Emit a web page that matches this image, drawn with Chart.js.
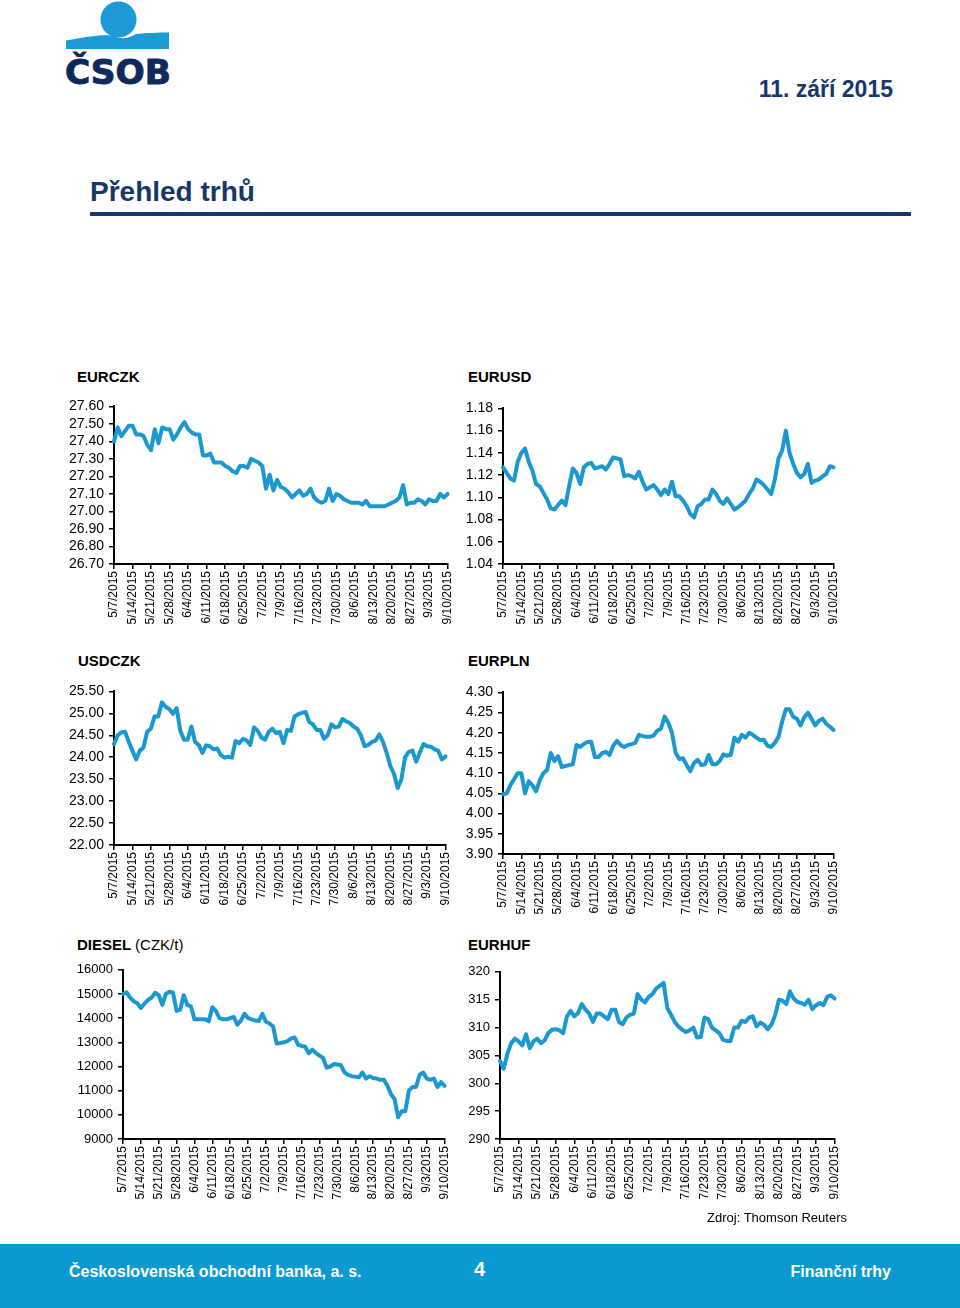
<!DOCTYPE html>
<html>
<head>
<meta charset="utf-8">
<title>Přehled trhů</title>
<script src="https://cdn.jsdelivr.net/npm/chart.js@4.4.1/dist/chart.umd.min.js"></script>
<style>
    body {
        margin: 0;
        width: 960px;
        height: 1308px;
        position: relative;
        overflow: hidden;
        background: #fff;
        font-family: "Liberation Sans", Arial, sans-serif;
    }
    .abs { position: absolute; white-space: nowrap; }
    .date { right: 67px; top: 76px; font-size: 23px; font-weight: bold; color: #17376a; }
    .title { left: 90px; top: 176px; font-size: 28px; font-weight: bold; color: #17376a; }
    .rule { left: 90px; top: 212px; width: 821px; height: 4px; background: #17376a; }
    .ctitle { font-size: 15px; font-weight: bold; color: #000; line-height: 15px; }
    .ctitle span { font-weight: normal; }
    .source { right: 113px; top: 1210px; font-size: 13px; color: #000; }
    .footer { left: 0; top: 1244px; width: 960px; height: 64px; background: #0a9ad1; }
    .foot { color: #fff; font-weight: bold; font-size: 16px; top: 1263px; }
    canvas { position: absolute; }
</style>
</head>
<body>

<svg class="abs" style="left:60px;top:0" width="120" height="90" viewBox="0 0 120 90">
    <circle cx="58.5" cy="19.5" r="18" fill="#1b9ad6"/>
    <path d="M6 40.5 C30 36 48 33 56 37 C62 39.5 70 38 76 34 C86 33 100 32.5 109 32.5 L109 49 L6 49 Z" fill="#1b9ad6"/>
    <text x="5" y="84" font-family="DejaVu Sans, Liberation Sans, sans-serif" font-weight="bold" font-size="34"
          textLength="106" lengthAdjust="spacingAndGlyphs" fill="#0d2a5c" stroke="#0d2a5c" stroke-width="1">ČSOB</text>
</svg>

<div class="abs date">11. září 2015</div>
<div class="abs title">Přehled trhů</div>
<div class="abs rule"></div>

<div class="abs ctitle" style="left:77px;top:369px">EURCZK</div>
<div class="abs ctitle" style="left:468px;top:369px">EURUSD</div>
<div class="abs ctitle" style="left:78px;top:653px">USDCZK</div>
<div class="abs ctitle" style="left:468px;top:653px">EURPLN</div>
<div class="abs ctitle" style="left:77px;top:937px">DIESEL <span>(CZK/t)</span></div>
<div class="abs ctitle" style="left:468px;top:937px">EURHUF</div>

<canvas id="eurczk"></canvas>
<canvas id="eurusd"></canvas>
<canvas id="usdczk"></canvas>
<canvas id="eurpln"></canvas>
<canvas id="diesel"></canvas>
<canvas id="eurhuf"></canvas>

<div class="abs source">Zdroj: Thomson Reuters</div>
<div class="abs footer"></div>
<div class="abs foot" style="left:69px">Československá obchodní banka, a. s.</div>
<div class="abs foot" style="left:474px;top:1258px;font-size:20px">4</div>
<div class="abs foot" style="right:69px">Finanční trhy</div>

<script>
// Business days 5/7/2015 .. 9/10/2015 (axis categories)
const START = new Date(2015, 4, 7);
const END = new Date(2015, 8, 10);
const days = [];
for (let d = new Date(START); d <= END; d.setDate(d.getDate() + 1)) {
    const wd = d.getDay();
    if (wd === 0 || wd === 6) continue;
    days.push((d.getMonth() + 1) + '/' + d.getDate() + '/' + d.getFullYear());
}

// Y tick values per chart
const eurczkTicks = [26.70, 26.80, 26.90, 27.00, 27.10, 27.20, 27.30, 27.40, 27.50, 27.60];
const eurusdTicks = [1.04, 1.06, 1.08, 1.10, 1.12, 1.14, 1.16, 1.18];
const usdczkTicks = [22.00, 22.50, 23.00, 23.50, 24.00, 24.50, 25.00, 25.50];
const eurplnTicks = [3.90, 3.95, 4.00, 4.05, 4.10, 4.15, 4.20, 4.25, 4.30];
const dieselTicks = [9000, 10000, 11000, 12000, 13000, 14000, 15000, 16000];
const eurhufTicks = [290, 295, 300, 305, 310, 315, 320];

// Series values, one per business day
const eurczk = [
    27.40, 27.48, 27.43, 27.46, 27.49,
    27.49, 27.44, 27.44, 27.43, 27.38,
    27.35, 27.47, 27.39, 27.48, 27.47,
    27.47, 27.41, 27.44, 27.48, 27.51,
    27.47, 27.45, 27.44, 27.44, 27.32,
    27.32, 27.33, 27.28, 27.28, 27.28,
    27.26, 27.25, 27.23, 27.22, 27.26,
    27.26, 27.25, 27.30, 27.29, 27.28,
    27.26, 27.13, 27.21, 27.12, 27.18,
    27.14, 27.13, 27.11, 27.08, 27.10,
    27.12, 27.09, 27.10, 27.13, 27.08,
    27.06, 27.05, 27.06, 27.13, 27.06,
    27.10, 27.09, 27.07, 27.06, 27.05,
    27.05, 27.05, 27.04, 27.06, 27.03,
    27.03, 27.03, 27.03, 27.03, 27.04,
    27.05, 27.06, 27.08, 27.15, 27.04,
    27.05, 27.05, 27.07, 27.06, 27.04,
    27.07, 27.06, 27.06, 27.10, 27.08,
    27.10
];

const eurusd = [
    1.127, 1.122, 1.117, 1.115, 1.132,
    1.140, 1.144, 1.132, 1.124, 1.112,
    1.110, 1.104, 1.098, 1.090, 1.089,
    1.093, 1.097, 1.093, 1.110, 1.126,
    1.122, 1.112, 1.127, 1.130, 1.131,
    1.126, 1.127, 1.128, 1.125, 1.130,
    1.136, 1.135, 1.134, 1.119, 1.120,
    1.119, 1.117, 1.123, 1.114, 1.107,
    1.109, 1.111, 1.107, 1.102, 1.107,
    1.103, 1.114, 1.101, 1.101, 1.097,
    1.092, 1.085, 1.082, 1.092, 1.094,
    1.098, 1.098, 1.107, 1.103, 1.097,
    1.094, 1.099, 1.094, 1.089, 1.091,
    1.094, 1.097, 1.103, 1.108, 1.116,
    1.114, 1.111, 1.107, 1.103, 1.116,
    1.135, 1.142, 1.160, 1.140, 1.130,
    1.122, 1.118, 1.121, 1.130, 1.113,
    1.115, 1.116, 1.119, 1.121, 1.128,
    1.127
];

const usdczk = [
    24.30, 24.50, 24.57, 24.58, 24.35,
    24.15, 23.95, 24.15, 24.22, 24.58,
    24.65, 24.93, 24.93, 25.25, 25.15,
    25.10, 24.99, 25.12, 24.60, 24.40,
    24.40, 24.70, 24.35, 24.28, 24.10,
    24.27, 24.25, 24.18, 24.20, 24.05,
    23.99, 24.01, 23.99, 24.37, 24.32,
    24.42, 24.38, 24.28, 24.68, 24.60,
    24.45, 24.40, 24.58, 24.65, 24.55,
    24.58, 24.32, 24.62, 24.60, 24.93,
    24.98, 25.01, 25.03, 24.80, 24.75,
    24.62, 24.62, 24.42, 24.50, 24.75,
    24.68, 24.70, 24.87, 24.82, 24.78,
    24.70, 24.65, 24.50, 24.25, 24.28,
    24.35, 24.38, 24.52, 24.35, 24.10,
    23.80, 23.62, 23.30, 23.50, 24.00,
    24.12, 24.15, 23.90, 24.10, 24.30,
    24.25, 24.24, 24.18, 24.15, 23.95,
    24.02
];

const eurpln = [
    4.048, 4.050, 4.070, 4.085, 4.100,
    4.100, 4.050, 4.080, 4.070, 4.055,
    4.082, 4.100, 4.108, 4.150, 4.130,
    4.142, 4.115, 4.118, 4.120, 4.122,
    4.170, 4.165, 4.172, 4.177, 4.178,
    4.140, 4.140, 4.150, 4.153, 4.145,
    4.168, 4.180, 4.170, 4.165, 4.170,
    4.172, 4.175, 4.195, 4.192, 4.190,
    4.190, 4.193, 4.205, 4.210, 4.240,
    4.225, 4.200, 4.150, 4.135, 4.137,
    4.120, 4.105, 4.125, 4.133, 4.120,
    4.122, 4.145, 4.122, 4.122, 4.130,
    4.147, 4.143, 4.145, 4.188, 4.178,
    4.195, 4.188, 4.200, 4.195, 4.188,
    4.182, 4.183, 4.168, 4.165, 4.175,
    4.190, 4.228, 4.258, 4.258, 4.240,
    4.235, 4.218, 4.238, 4.250, 4.235,
    4.218, 4.230, 4.235, 4.222, 4.215,
    4.207
];

const diesel = [
    15000, 15070, 14850, 14700, 14620,
    14420, 14600, 14750, 14850, 15050,
    14950, 14550, 15000, 15100, 15050,
    14300, 14350, 14950, 14550, 14480,
    13950, 13950, 13950, 13950, 13870,
    14450, 14300, 14000, 13950, 13950,
    14000, 14050, 13730, 13900, 14180,
    14000, 13950, 13900, 13880, 14180,
    13850, 13780, 13650, 12950, 12970,
    13000, 13050, 13150, 13200, 12900,
    12850, 12820, 12550, 12700, 12550,
    12450, 12350, 11950, 12000, 12100,
    12080, 12050, 11750, 11650, 11600,
    11580, 11550, 11750, 11500, 11600,
    11520, 11500, 11450, 11450, 11200,
    10850, 10650, 9900, 10150, 10150,
    11000, 11150, 11150, 11650, 11750,
    11500, 11450, 11500, 11150, 11350,
    11200
];

const eurhuf = [
    304.0, 302.6, 305.3, 307.2, 308.0,
    307.5, 306.8, 308.8, 306.3, 307.5,
    308.0, 307.2, 307.7, 309.0, 309.6,
    309.7, 309.5, 309.0, 312.0, 313.0,
    312.0, 312.6, 314.2, 313.2, 312.5,
    311.0, 312.5, 312.5, 312.0, 311.5,
    313.2, 313.2, 311.0, 310.6, 311.8,
    312.3, 312.5, 316.0, 315.0, 314.5,
    315.5, 316.0, 317.0, 317.5, 318.0,
    313.5, 312.3, 311.0, 310.2, 309.6,
    309.2, 309.5, 310.0, 308.2, 308.3,
    311.8, 311.5, 310.0, 309.5, 309.0,
    307.8, 307.6, 307.6, 310.0, 310.0,
    311.2, 311.0, 311.8, 312.0, 310.2,
    310.9, 310.5, 309.7, 310.5, 312.2,
    315.0, 314.8, 314.2, 316.5, 315.2,
    314.6, 314.4, 314.1, 315.0, 313.3,
    314.0, 314.4, 314.0, 315.5, 315.8,
    315.2
];

const LINE = '#1b98cf';
const Y_W = 60;      // y axis box width
const X_H = 62;      // x axis box height
const PAD_T = 10;
const PAD_R = 8;

// plot = chart area box in page pixels
function drawChart(id, values, yTicks, plot, dec, fontSize) {
    const cv = document.getElementById(id);
    cv.width = Y_W + plot.w + PAD_R;
    cv.height = PAD_T + plot.h + X_H;
    cv.style.left = (plot.x - Y_W) + 'px';
    cv.style.top = (plot.y - PAD_T) + 'px';

    return new Chart(cv, {
        type: 'line',
        data: {
            labels: days,
            datasets: [{
                data: values,
                borderColor: LINE,
                borderWidth: 4,
                borderJoinStyle: 'round',
                borderCapStyle: 'round',
                pointRadius: 0,
                tension: 0,
                fill: false
            }]
        },
        options: {
            responsive: false,
            animation: false,
            devicePixelRatio: 1,
            layout: { padding: { top: PAD_T, right: PAD_R, left: 0, bottom: 0 } },
            plugins: { legend: { display: false }, tooltip: { enabled: false } },
            scales: {
                x: {
                    type: 'category',
                    offset: false,
                    grid: { display: true, drawOnChartArea: false, drawTicks: true, tickLength: 5, color: '#000', lineWidth: 1.5 },
                    border: { display: true, color: '#000', width: 2 },
                    ticks: {
                        autoSkip: false,
                        minRotation: 90,
                        maxRotation: 90,
                        padding: 2,
                        color: '#000',
                        font: { family: 'Liberation Sans', size: 12 }
                    },
                    afterBuildTicks(scale) {
                        scale.ticks = scale.ticks.filter(t => t.value % 5 === 0);
                    },
                    afterFit(scale) { scale.height = X_H; }
                },
                y: {
                    min: yTicks[0],
                    max: yTicks[yTicks.length - 1],
                    grid: { display: true, drawOnChartArea: false, drawTicks: true, tickLength: 5, color: '#000', lineWidth: 1.5 },
                    border: { display: true, color: '#000', width: 2 },
                    ticks: {
                        autoSkip: false,
                        padding: 5,
                        color: '#000',
                        font: { family: 'Liberation Sans', size: fontSize },
                        callback: v => Number(v).toFixed(dec)
                    },
                    afterBuildTicks(scale) {
                        scale.ticks = yTicks.map(v => ({ value: v }));
                    },
                    afterFit(scale) { scale.width = Y_W; }
                }
            }
        }
    });
}

drawChart('eurczk', eurczk, eurczkTicks, { x: 114, y: 403, w: 342, h: 161 }, 2, 14);
drawChart('eurusd', eurusd, eurusdTicks, { x: 503, y: 405, w: 339, h: 159 }, 2, 14);
drawChart('usdczk', usdczk, usdczkTicks, { x: 114, y: 688, w: 340, h: 157 }, 2, 14);
drawChart('eurpln', eurpln, eurplnTicks, { x: 503, y: 689, w: 339, h: 165 }, 2, 14);
drawChart('diesel', diesel, dieselTicks, { x: 123, y: 967, w: 330, h: 172 }, 0, 13);
drawChart('eurhuf', eurhuf, eurhufTicks, { x: 500, y: 969, w: 343, h: 170 }, 0, 13);
</script>
</body>
</html>
